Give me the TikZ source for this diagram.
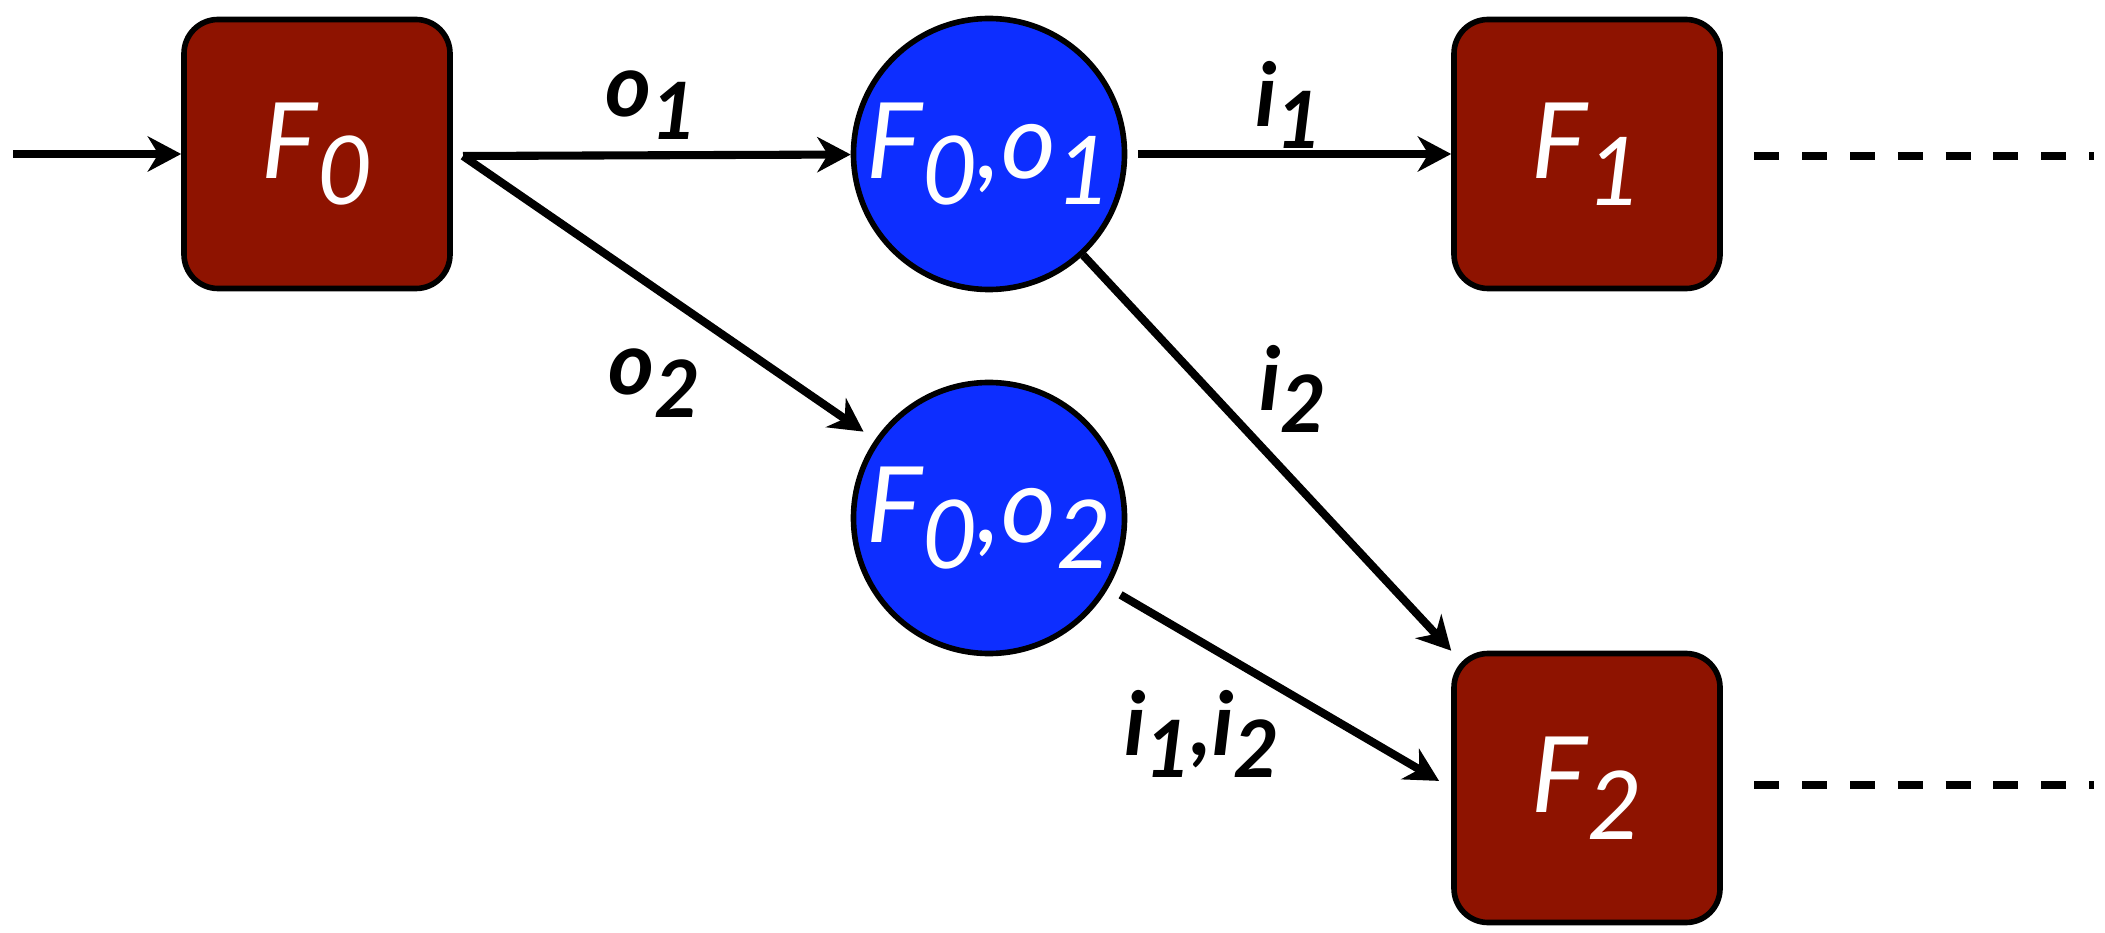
\documentclass[tikz,border=0pt]{standalone}
\usepackage{fontspec}
\setmainfont{Lato}
\usetikzlibrary{arrows.meta}
\definecolor{boxred}{RGB}{142,19,0}
\definecolor{stateblue}{RGB}{13,46,255}
\newcommand{\idx}[1]{\raisebox{-0.5ex}{\scalebox{0.9}{#1}}}

\begin{document}
\begin{tikzpicture}[
  frame/.style={draw=black,line width=1.6pt,fill=boxred,rounded corners=0.34cm,minimum width=2.66cm,minimum height=2.69cm,inner sep=0pt,text=white,font=\fontsize{30}{31}\selectfont\itshape},
  state/.style={draw=black,line width=1.6pt,fill=stateblue,circle,minimum size=2.71cm,inner sep=0pt,text=white,font=\fontsize{30}{31}\selectfont\itshape},
  edge/.style={line width=2.3pt,-{Stealth[length=9.5pt,width=10pt,inset=3pt]}},
  lbl/.style={font=\fontsize{25}{27}\selectfont\bfseries\itshape},
  cont/.style={line width=2.3pt,dash pattern=on 7.1pt off 6.5pt}
]
\useasboundingbox (0,0) rectangle (21.05,9.32);
\node[frame] (F0) at (3.17,7.78) {F\idx{0}};
\node[state] (o1) at (9.89,7.78) {F\idx{0},o\idx{1}};
\node[state] (o2) at (9.89,4.14) {F\idx{0},o\idx{2}};
\node[frame] (F1) at (15.87,7.78) {F\idx{1}};
\node[frame] (F2) at (15.87,1.44) {F\idx{2}};
\coordinate (in) at (0.13,7.78);
\coordinate (fork) at (4.63,7.76);
\coordinate (end1) at (20.94,7.76);
\coordinate (end2) at (20.94,1.47);
\draw[edge] (in) -- (F0.west);
\draw[edge] (fork) -- (o1);
\draw[edge,shorten >=4pt] (fork) -- (o2);
\draw[edge,shorten <=3pt] (o1) -- (F1);
\draw[edge] (o1) -- (F2.north west);
\draw[edge,shorten <=4pt,shorten >=4pt] (o2) -- (F2.west);
\draw[cont,shorten <=9pt] (F1.east |- end1) -- (end1);
\draw[cont,shorten <=9pt] (F2.east |- end2) -- (end2);
\node[lbl] (lo1) at (6.51,8.27) {o\idx{1}};
\node[lbl] (lo2) at (6.54,5.49) {o\idx{2}};
\node[lbl] (li1) at (12.89,8.27) {i\idx{1}};
\node[lbl] (li2) at (12.93,5.43) {i\idx{2}};
\node[lbl] (li12) at (12.02,1.98) {i\idx{1},i\idx{2}};
\end{tikzpicture}
\end{document}
